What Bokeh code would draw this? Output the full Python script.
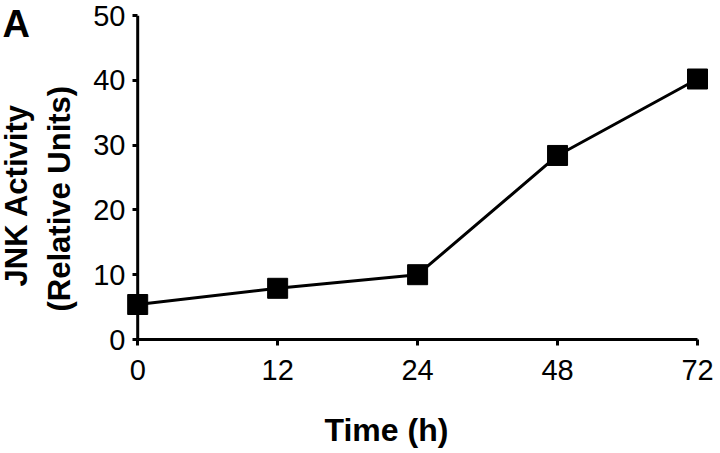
from bokeh.plotting import figure
from bokeh.models import Range1d, FixedTicker, Span, Title, LinearAxis
from bokeh.embed import file_html
from bokeh.resources import INLINE

# ---- data ----
time_labels = ["0", "12", "24", "48", "72"]
jnk_activity = [5.4, 7.9, 10.0, 28.4, 40.2]
y_ticks = [0, 10, 20, 30, 40, 50]

x_pos = list(range(len(time_labels)))

FONT = "Liberation Sans"

p = figure(width=720, height=453, output_backend="svg", toolbar_location=None,
           x_range=Range1d(-0.08, 4.1), y_range=Range1d(0, 50),
           min_border_left=126, min_border_right=9, min_border_top=15,
           min_border_bottom=114)
p.outline_line_color = None
p.grid.visible = False
p.background_fill_color = "white"
p.border_fill_color = "white"

for ax in (p.xaxis[0], p.yaxis[0]):
    ax.axis_line_width = 3
    ax.axis_line_color = "black"
    ax.major_tick_line_width = 3
    ax.major_tick_line_color = "black"
    ax.minor_tick_line_color = None
    ax.major_label_text_font = FONT
    ax.major_label_text_font_size = "29px"
    ax.major_label_text_color = "black"
    ax.axis_label = None

p.xaxis.ticker = FixedTicker(ticks=x_pos)
p.xaxis.major_label_overrides = {i: t for i, t in zip(x_pos, time_labels)}
p.xaxis.bounds = (x_pos[0], x_pos[-1])
p.xaxis.major_tick_out = 6
p.xaxis.major_tick_in = 0
p.xaxis.major_label_standoff = 14

p.yaxis.ticker = FixedTicker(ticks=y_ticks)
p.yaxis.axis_line_color = None
p.yaxis.major_tick_in = 11
p.yaxis.major_tick_out = -6
p.yaxis.major_label_standoff = 1
p.add_layout(Span(location=x_pos[0], dimension="height", line_color="black",
                  line_width=3))

# invisible spacer below the x axis (keeps the axis title low)
spacer = LinearAxis(ticker=FixedTicker(ticks=[x_pos[2]]), axis_line_color=None,
                    major_tick_line_color=None, minor_tick_line_color=None,
                    major_tick_out=22, major_tick_in=0, major_label_standoff=0,
                    major_label_overrides={x_pos[2]: ""},
                    major_label_text_font_size="1px")
p.add_layout(spacer, "below")

p.line(x_pos, jnk_activity, line_color="black", line_width=3)
p.scatter(x_pos, jnk_activity, marker="square", size=20, fill_color="black",
          line_color="black")

def title(text, size="31px", **kw):
    return Title(text=text, text_font=FONT, text_font_style="bold",
                 text_font_size=size, text_color="black", **kw)

p.add_layout(title("(Relative Units)", align="left", offset=28, standoff=28), "left")
p.add_layout(title("JNK Activity", align="left", offset=53, standoff=-17), "left")
p.add_layout(title("Time (h)", size="32px", align="left", offset=198, standoff=10), "below")
p.add_layout(title("A", size="38px", align="left", offset=-124, standoff=-58), "above")

open("out.html", "w").write(file_html(p, INLINE))
